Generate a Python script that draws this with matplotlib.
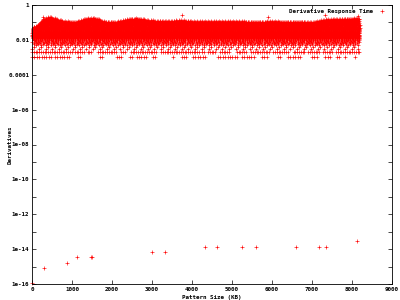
import numpy as np
import matplotlib
matplotlib.use("Agg")
import matplotlib.pyplot as plt
from matplotlib.ticker import FixedLocator, NullFormatter

# ---------------- data ----------------
# low outlier points: pattern size (KB) and derivative value
low_kb = [0, 300, 886, 1136, 1470, 1503, 3005, 3323, 4333, 4634, 5252, 5602, 6596, 7172, 7356, 8132]
low_val = [1.1e-16, 8e-16, 1.7e-15, 3.4e-15, 3.4e-15, 3.4e-15, 6.6e-15, 6.6e-15,
           1.3e-14, 1.3e-14, 1.3e-14, 1.3e-14, 1.3e-14, 1.3e-14, 1.3e-14, 2.8e-14]

# main cloud: upper envelope (ms) at pattern-size nodes (KB)
cloud_kb = [0, 150, 300, 450, 600, 800, 1100, 1400, 1550, 1800, 2100, 2400, 2600,
            2900, 3200, 3500, 3700, 4000, 4500, 5000, 5500, 6000, 6500, 7000, 7300,
            7600, 7900, 8192]
cloud_top_ms = [50, 75, 170, 210, 170, 120, 115, 180, 190, 120, 110, 160, 180,
                140, 125, 125, 140, 125, 120, 125, 115, 120, 115, 110, 150,
                160, 170, 180]
# quantised response levels (ms) present in the cloud
cloud_levels_ms = [3, 4, 5, 6, 7, 8, 9, 10, 11, 12, 13, 14, 15, 16, 17, 18, 19, 20, 22,
                   24, 26, 28, 30, 32, 34, 36, 38, 40, 43, 46, 49, 52, 55, 58, 61, 64,
                   68, 72, 76, 80, 85, 90, 95, 100, 106, 112, 118, 125, 132, 140, 148,
                   156, 165, 175, 185, 195, 205]
# sparse high outliers
high_kb = [268, 3741, 5902, 7329, 8155]
high_ms = [213, 267, 213, 267, 233]

# rows at 2 ms and 1 ms: occupied pattern-size segments (KB)
row2_segments = [(0, 990), (1070, 1310), (1390, 1500), (1650, 2130), (2230, 2350),
                 (2470, 3120), (3230, 4200), (4250, 4320), (4400, 4580), (4700, 4950),
                 (5120, 5370), (5480, 5960), (6030, 6410), (6540, 6820), (6910, 7200),
                 (7280, 7520), (7600, 8192)]
row1_segments = [(0, 485), (568, 986), (1150, 1237), (1695, 1771), (2113, 2238),
                 (2446, 2530), (2614, 2864), (3023, 3115), (3525, 3570), (3741, 3866),
                 (4025, 4325), (4650, 5150), (5243, 5576), (5744, 5869), (6150, 6250),
                 (6400, 6700), (6996, 7162), (7329, 7496), (7620, 7705), (7830, 7870),
                 (8080, 8125)]

x_ticks = [0, 1000, 2000, 3000, 4000, 5000, 6000, 7000, 8000, 9000]
y_ticks = [1e-16, 1e-14, 1e-12, 1e-10, 1e-08, 1e-06, 1e-04, 1e-02, 1]
y_ticklabels = ["1e-16", "1e-14", "1e-12", "1e-10", "1e-08", "1e-06", "0.0001", "0.01", "1"]

# ---------------- build cloud marks ----------------
xs, ys = [], []
for i, lev in enumerate(cloud_levels_ms):
    if lev >= 60:
        step = 70
    elif lev >= 30:
        step = 50
    elif lev >= 15:
        step = 40
    elif lev >= 10:
        step = 55
    elif lev >= 7:
        step = 85
    elif lev >= 5:
        step = 120
    else:
        step = 170
    off = (i * 53) % step
    grid = np.arange(off, cloud_kb[-1] + 1, step)
    top = np.interp(grid, cloud_kb, cloud_top_ms)
    sel = grid[lev <= top]
    xs.extend(sel.tolist())
    ys.extend([lev / 1000.0] * len(sel))
for seg in row2_segments:
    g = np.arange(seg[0], seg[1] + 1, 45)
    xs.extend(g.tolist()); ys.extend([0.002] * len(g))
for seg in row1_segments:
    g = np.arange(seg[0], seg[1] + 1, 60)
    xs.extend(g.tolist()); ys.extend([0.001] * len(g))
xs.extend(high_kb); ys.extend([m / 1000.0 for m in high_ms])
xs.extend(low_kb); ys.extend(low_val)

# ---------------- plot ----------------
fig = plt.figure(figsize=(4, 3), dpi=100)
ax = fig.add_axes([32 / 400, 16 / 300, 360 / 400, 279 / 300])
ax.plot(xs, ys, linestyle="none", marker="+", color="#ff0000",
        markersize=3.4, markeredgewidth=0.45, label="Derivative Response Time",
        clip_on=False)
ax.set_yscale("log")
ax.set_xlim(0, 9000)
ax.set_ylim(1e-16, 1)

ax.xaxis.set_major_locator(FixedLocator(x_ticks))
ax.set_xticklabels([str(v) for v in x_ticks])
ax.set_yticks(y_ticks, labels=y_ticklabels)
ax.set_yticks([10.0 ** k for k in range(-15, 0, 2)], minor=True)
ax.yaxis.set_minor_formatter(NullFormatter())

fs = 4.2
ax.tick_params(axis="both", which="both", direction="in", top=True, right=True,
               length=3, width=0.5, labelsize=fs, pad=2)
for lab in ax.get_xticklabels() + ax.get_yticklabels():
    lab.set_family("DejaVu Sans Mono")
    lab.set_fontweight("bold")
for sp in ax.spines.values():
    sp.set_linewidth(0.6)

ax.set_xlabel("Pattern Size (KB)", fontsize=fs, family="DejaVu Sans Mono",
              fontweight="bold", labelpad=2)
ax.set_ylabel("Derivatives", fontsize=fs, family="DejaVu Sans Mono",
              fontweight="bold")
ax.yaxis.set_label_coords(-0.055, 0.5)

leg = ax.legend(loc="upper right", frameon=False, markerfirst=False,
                prop={"family": "DejaVu Sans Mono", "weight": "bold", "size": fs},
                handlelength=1.5, borderaxespad=0.3, bbox_to_anchor=(0.995, 1.0))

fig.savefig("out.png", dpi=100)
